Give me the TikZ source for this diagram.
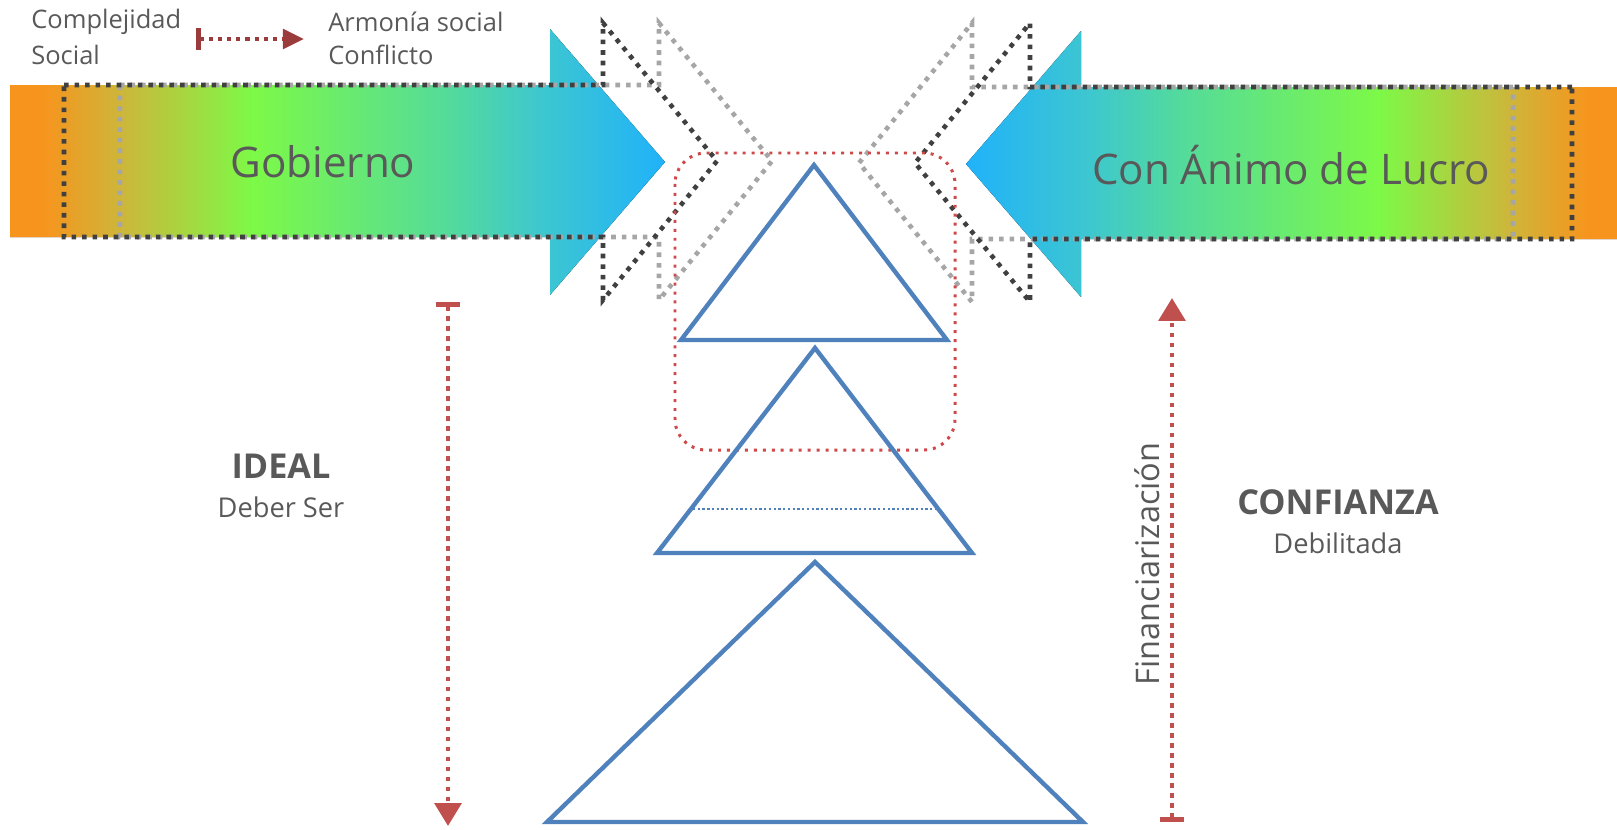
\documentclass[tikz,border=0pt]{standalone}
\usepackage{fontspec}
\setmainfont{Open Sans}
\usetikzlibrary{arrows.meta}

\definecolor{txtgray}{HTML}{595959}
\definecolor{triblue}{HTML}{4F81BD}
\definecolor{arrred}{HTML}{C0504D}
\definecolor{legred}{HTML}{9B3B3B}
\definecolor{boxred}{HTML}{D0484A}
\definecolor{dotdark}{HTML}{404040}
\definecolor{dotlight}{HTML}{A6A6A6}
\definecolor{arrorange}{HTML}{F7941D}
\definecolor{arrochre}{HTML}{CDB63A}
\definecolor{arrgreen}{HTML}{7DF947}
\definecolor{arrmint}{HTML}{55DC98}
\definecolor{arrcyan}{HTML}{3CC6D2}
\definecolor{arrblue}{HTML}{20B2FA}

\pgfdeclarehorizontalshading{arrowfill}{100bp}{color(0bp)=(arrorange); color(27.5bp)=(arrorange); color(33.5bp)=(arrochre); color(43.5bp)=(arrgreen); color(58bp)=(arrmint); color(66bp)=(arrcyan); color(75bp)=(arrblue); color(100bp)=(arrblue)}

\begin{document}
\begin{tikzpicture}[x=0.02cm, y=-0.02cm,
    plaintxt/.style={text=txtgray, inner sep=0pt},
    bigtxt/.style={plaintxt, font=\fontsize{24}{29}\selectfont},
    smalltxt/.style={plaintxt, font=\fontsize{14.5}{18}\selectfont},
    boldtxt/.style={plaintxt, font=\fontsize{19.5}{24}\selectfont\bfseries},
    darkdots/.style={draw=dotdark, line width=2.6pt, dash pattern=on 2.6pt off 3.4pt},
    lightdots/.style={draw=dotlight, line width=2.6pt, dash pattern=on 2.6pt off 3.4pt},
    tri/.style={draw=triblue, line width=2.5pt},
    redarrow/.style={draw=arrred, line width=2.7pt, dash pattern=on 2.6pt off 3.1pt}
]

    % Fix the size of the picture
    \useasboundingbox (0,0) rectangle (1617,829);

    % Define the coordinates for the two vertical arrows
    \coordinate (IdealTop) at (448,302);
    \coordinate (IdealBot) at (448,826);
    \coordinate (FinBot) at (1172,822);
    \coordinate (FinTop) at (1172,298);

    % Define the coordinates for the legend arrow
    \coordinate (LegA) at (196,39);
    \coordinate (LegB) at (304,39);

    % Draw the two shaded arrows
    \fill[shading=arrowfill] (10,85) -- (550,85) -- (550,29) -- (665,162) -- (550,295) -- (550,237) -- (10,237) -- cycle;
    \fill[shading=arrowfill, shading angle=180] (1621,87) -- (1081,87) -- (1081,31) -- (966,164) -- (1081,297) -- (1081,239) -- (1621,239) -- cycle;

    % Draw the dotted arrow outlines (left)
    \draw[lightdots] (120,85) -- (659,85) -- (659,23) -- (772,161) -- (659,300) -- (659,237) -- (120,237) -- cycle;
    \draw[darkdots] (64,85) -- (603,85) -- (603,23) -- (717,161) -- (603,300) -- (603,237) -- (64,237) -- cycle;

    % Draw the dotted arrow outlines (right)
    \draw[lightdots] (1513,87) -- (972,87) -- (972,23) -- (859,163) -- (972,302) -- (972,239) -- (1513,239) -- cycle;
    \draw[darkdots] (1572,87) -- (1030,87) -- (1030,23) -- (915,163) -- (1030,302) -- (1030,239) -- (1572,239) -- cycle;

    % Draw the red dotted box
    \draw[boxred, line width=1.7pt, dash pattern=on 1.7pt off 3.4pt, rounded corners=0.62cm] (675,153) rectangle (955,450);

    % Draw the three triangles
    \draw[tri] (814,165) -- (947,340) -- (681,340) -- cycle;
    \draw[tri] (815,348) -- (972,553) -- (657,553) -- cycle;
    \draw[tri] (815,562) -- (1083,822) -- (547,822) -- cycle;

    % Draw the dotted line inside the middle triangle
    \draw[triblue, line width=1.2pt, dash pattern=on 1.3pt off 1.4pt] (693,509) -- (936,509);

    % Draw the vertical arrows
    \draw[redarrow, {Bar[width=14pt, line width=3pt]}-{Triangle[width=15pt, length=13pt]}] (IdealTop) -- (IdealBot);
    \draw[redarrow, {Bar[width=14pt, line width=3pt]}-{Triangle[width=15pt, length=13pt]}] (FinBot) -- (FinTop);

    % Draw the legend arrow
    \draw[draw=legred, line width=2.4pt, dash pattern=on 2.4pt off 2.8pt, {Bar[width=12pt, line width=2.8pt]}-{Triangle[width=11pt, length=12pt]}] (LegA) -- (LegB);

    % Label the legend
    \node[smalltxt, anchor=west] (comp) at (31,22) {Complejidad};
    \node[smalltxt, anchor=west] (soc) at (31,55) {Social};
    \node[smalltxt, anchor=west] (armo) at (328,22) {Armonía social};
    \node[smalltxt, anchor=west] (conf) at (328,55) {Conflicto};

    % Label the arrows
    \node[bigtxt] (gob) at (323,162) {Gobierno};
    \node[bigtxt] (lucro) at (1291,165) {Con Ánimo de Lucro};

    % Label the two sides
    \node[boldtxt] (ideal) at (281,466) {IDEAL};
    \node[smalltxt, font=\fontsize{15.5}{19}\selectfont] (deber) at (281,507) {Deber Ser};
    \node[boldtxt] (confianza) at (1338,502) {CONFIANZA};
    \node[smalltxt, font=\fontsize{15.5}{19}\selectfont] (debil) at (1338,543) {Debilitada};
    \node[plaintxt, font=\fontsize{18.5}{22}\selectfont, rotate=90] (fin) at (1147,564) {Financiarización};

\end{tikzpicture}
\end{document}
